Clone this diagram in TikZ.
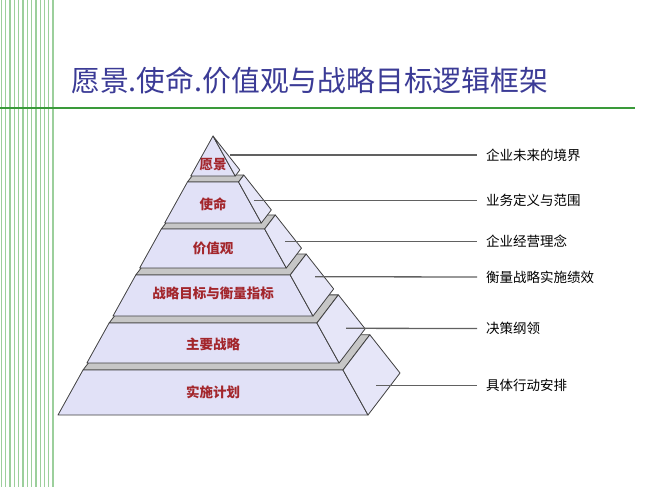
\documentclass[tikz,border=0pt]{standalone}
\usepackage{xcolor}
\usepackage{fontspec}
\usepackage{tikz}
\usetikzlibrary{calc}
\setmainfont{Noto Sans CJK SC}
\definecolor{ttlblue}{HTML}{3B3B96}
\definecolor{lvlred}{HTML}{A3262C}
\definecolor{rulegreen}{HTML}{3A9A3A}
\definecolor{stripegreen}{HTML}{9CCF9C}
\definecolor{facelilac}{HTML}{E1E1F7}
\definecolor{sidelilac}{HTML}{E6E6F8}
\definecolor{stripgray}{HTML}{C6C6C6}
\definecolor{edgegray}{HTML}{404040}
% one slice of the pyramid: top s, bottom s, label s, text, name
\newcommand{\pyrslice}[5]{%
  \filldraw[topface] ($(A)!#1!(FL)$) -- ($(A)!#1!(FR)$) -- ($(A)!#1!(BR)$) -- ($(A)!#1!(BL)$) -- cycle;
  \filldraw[frontface] ($(A)!#1!(FL)$) -- ($(A)!#1!(FR)$) -- ($(A)!#2!(FR)$) -- ($(A)!#2!(FL)$) -- cycle;
  \filldraw[sideface] ($(A)!#1!(FR)$) -- ($(A)!#1!(BR)$) -- ($(A)!#2!(BR)$) -- ($(A)!#2!(FR)$) -- cycle;
  \node[lvltext] (#5) at ($(A)!#3!(FM)$) {#4};
}

\begin{document}
\begin{tikzpicture}[x=1pt,y=-1pt,line join=round,
    topface/.style={fill=stripgray,draw=edgegray,line width=0.8pt},
    frontface/.style={fill=facelilac,draw=edgegray,line width=0.8pt},
    sideface/.style={fill=sidelilac,draw=edgegray,line width=0.8pt},
    lvltext/.style={text=lvlred,font=\fontsize{13.5}{15}\selectfont\bfseries,inner sep=0pt},
    desctext/.style={anchor=west,inner xsep=9pt,inner ysep=0pt,font=\fontsize{13.5}{15}\selectfont},
    leader/.style={draw=black!62,line width=1.3pt}]
  \useasboundingbox[fill=white] (0,0) rectangle (650,487);

  % green stripes and rule
  \foreach \i in {0,...,12}
    \draw[stripegreen,line width=1.3pt] (1.5+4.3*\i,0) -- (1.5+4.3*\i,487);
  \draw[rulegreen,line width=2.4pt] (0,108) -- (635,108);
  \node[anchor=west,inner sep=0pt,text=ttlblue,font=\fontsize{28.8}{32}\selectfont] (title) at (71,80)
    {愿景.使命.价值观与战略目标逻辑框架};

  % pyramid corners
  \coordinate (A) at (213,136);
  \coordinate (FL) at (58,415);
  \coordinate (FR) at (368,415);
  \coordinate (BR) at (400,373);
  \coordinate (BL) at (90,373);
  \coordinate (FM) at ($(FL)!0.5!(FR)$);

  \pyrslice{0.8387}{1}{0.92}{实施计划}{l6}
  \pyrslice{0.6703}{0.8136}{0.745}{主要战略}{l5}
  \pyrslice{0.4982}{0.6452}{0.565}{战略目标与衡量指标}{l4}
  \pyrslice{0.3333}{0.4731}{0.403}{价值观}{l3}
  \pyrslice{0.1649}{0.3118}{0.245}{使命}{l2}
  \pyrslice{0}{0.1434}{0.103}{愿景}{l1}

  % leader lines and descriptions
  \coordinate (p1) at (230,155);
  \coordinate (p2) at (254,200.7);
  \coordinate (p3) at (285,241.7);
  \coordinate (p4) at (315,276.7);
  \coordinate (p5) at (346,328.3);
  \coordinate (p6) at (376,385.5);
  \node[desctext] (d1) at (477,155) {企业未来的境界};
  \node[desctext] (d2) at (477,200.7) {业务定义与范围};
  \node[desctext] (d3) at (477,241.7) {企业经营理念};
  \node[desctext] (d4) at (477,277) {衡量战略实施绩效};
  \node[desctext] (d5) at (477,328.5) {决策纲领};
  \node[desctext] (d6) at (477,385.5) {具体行动安排};
  \foreach \k in {1,...,6}
    \draw[leader] (p\k) -- (d\k.west);
\end{tikzpicture}
\end{document}
